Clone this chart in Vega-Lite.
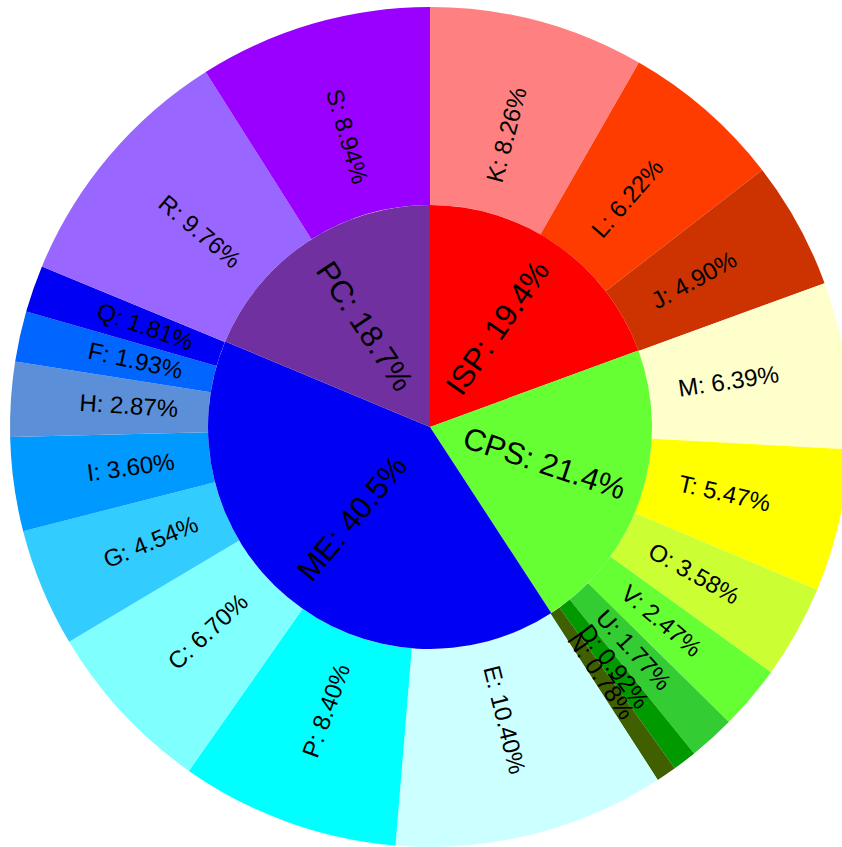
{
  "$schema": "https://vega.github.io/schema/vega-lite/v6.json",
  "width": 824,
  "height": 840,
  "padding": {"left": 18, "top": 7, "right": 0, "bottom": 0},
  "autosize": {"type": "none"},
  "background": "white",
  "config": {"view": {"stroke": null}, "text": {"font": "Liberation Sans"}},
  "datasets": {
    "inner": [
      {"idx": 1, "name": "ISP", "value": 19.4},
      {"idx": 2, "name": "CPS", "value": 21.4},
      {"idx": 3, "name": "ME", "value": 40.5},
      {"idx": 4, "name": "PC", "value": 18.7}
    ],
    "outer": [
      {"idx": 1, "name": "K", "value": 8.26},
      {"idx": 2, "name": "L", "value": 6.22},
      {"idx": 3, "name": "J", "value": 4.90},
      {"idx": 4, "name": "M", "value": 6.39},
      {"idx": 5, "name": "T", "value": 5.47},
      {"idx": 6, "name": "O", "value": 3.58},
      {"idx": 7, "name": "V", "value": 2.47},
      {"idx": 8, "name": "U", "value": 1.77},
      {"idx": 9, "name": "D", "value": 0.92},
      {"idx": 10, "name": "N", "value": 0.78},
      {"idx": 11, "name": "E", "value": 10.40},
      {"idx": 12, "name": "P", "value": 8.40},
      {"idx": 13, "name": "C", "value": 6.70},
      {"idx": 14, "name": "G", "value": 4.54},
      {"idx": 15, "name": "I", "value": 3.60},
      {"idx": 16, "name": "H", "value": 2.87},
      {"idx": 17, "name": "F", "value": 1.93},
      {"idx": 18, "name": "Q", "value": 1.81},
      {"idx": 19, "name": "R", "value": 9.76},
      {"idx": 20, "name": "S", "value": 8.94}
    ]
  },
  "layer": [
    {
      "data": {"name": "outer"},
      "transform": [
        {"window": [{"op": "sum", "field": "value", "as": "cumEnd"}], "sort": [{"field": "idx"}], "frame": [null, 0]},
        {"joinaggregate": [{"op": "sum", "field": "value", "as": "total"}]},
        {"calculate": "(datum.cumEnd - datum.value) / datum.total", "as": "t0"},
        {"calculate": "datum.cumEnd / datum.total", "as": "t1"}
      ],
      "mark": {"type": "arc", "innerRadius": 222, "outerRadius": 420},
      "encoding": {
        "theta": {"field": "t0", "type": "quantitative", "scale": {"domain": [0, 1]}, "stack": null},
        "theta2": {"field": "t1"},
        "color": {
          "field": "name", "type": "nominal", "legend": null,
          "scale": {
            "domain": ["ISP", "CPS", "ME", "PC", "K", "L", "J", "M", "T", "O", "V", "U", "D", "N", "E", "P", "C", "G", "I", "H", "F", "Q", "R", "S"],
            "range": ["#FF0000", "#66FF33", "#0000F5", "#7030A0", "#FF8080", "#FF3C00", "#CC3300", "#FFFFCC", "#FFFF00", "#CCFF33", "#66FF33", "#33CC33", "#009900", "#3F5F00", "#CCFFFF", "#00FFFF", "#80FFFF", "#33CCFF", "#0099FF", "#5B8FD8", "#0066FF", "#0000F5", "#9966FF", "#9900FF"]
          }
        }
      }
    },
    {
      "data": {"name": "inner"},
      "transform": [
        {"window": [{"op": "sum", "field": "value", "as": "cumEnd"}], "sort": [{"field": "idx"}], "frame": [null, 0]},
        {"joinaggregate": [{"op": "sum", "field": "value", "as": "total"}]},
        {"calculate": "(datum.cumEnd - datum.value) / datum.total", "as": "t0"},
        {"calculate": "datum.cumEnd / datum.total", "as": "t1"}
      ],
      "mark": {"type": "arc", "innerRadius": 0, "outerRadius": 222},
      "encoding": {
        "theta": {"field": "t0", "type": "quantitative", "scale": {"domain": [0, 1]}, "stack": null},
        "theta2": {"field": "t1"},
        "color": {"field": "name", "type": "nominal", "legend": null}
      }
    },
    {
      "data": {"name": "outer"},
      "transform": [
        {"window": [{"op": "sum", "field": "value", "as": "cumEnd"}], "sort": [{"field": "idx"}], "frame": [null, 0]},
        {"joinaggregate": [{"op": "sum", "field": "value", "as": "total"}]},
        {"calculate": "(datum.cumEnd - datum.value / 2) / datum.total", "as": "tm"},
        {"calculate": "datum.tm * 360 < 180 ? datum.tm * 360 - 90 : datum.tm * 360 - 270", "as": "rot"},
        {"calculate": "datum.name + ': ' + format(datum.value, '.2f') + '%'", "as": "label"}
      ],
      "mark": {"type": "text", "radius": 302, "fontSize": 24, "align": "center", "baseline": "middle", "color": "black"},
      "encoding": {
        "theta": {"field": "tm", "type": "quantitative", "scale": {"domain": [0, 1]}, "stack": null},
        "text": {"field": "label"},
        "angle": {"field": "rot", "type": "quantitative", "scale": null}
      }
    },
    {
      "data": {"name": "inner"},
      "transform": [
        {"window": [{"op": "sum", "field": "value", "as": "cumEnd"}], "sort": [{"field": "idx"}], "frame": [null, 0]},
        {"joinaggregate": [{"op": "sum", "field": "value", "as": "total"}]},
        {"calculate": "(datum.cumEnd - datum.value / 2) / datum.total", "as": "tm"},
        {"calculate": "datum.tm * 360 < 180 ? datum.tm * 360 - 90 : datum.tm * 360 - 270", "as": "rot"},
        {"calculate": "datum.name + ': ' + format(datum.value, '.1f') + '%'", "as": "label"}
      ],
      "mark": {"type": "text", "radius": 120, "fontSize": 31, "align": "center", "baseline": "middle", "color": "black"},
      "encoding": {
        "theta": {"field": "tm", "type": "quantitative", "scale": {"domain": [0, 1]}, "stack": null},
        "text": {"field": "label"},
        "angle": {"field": "rot", "type": "quantitative", "scale": null}
      }
    }
  ]
}
